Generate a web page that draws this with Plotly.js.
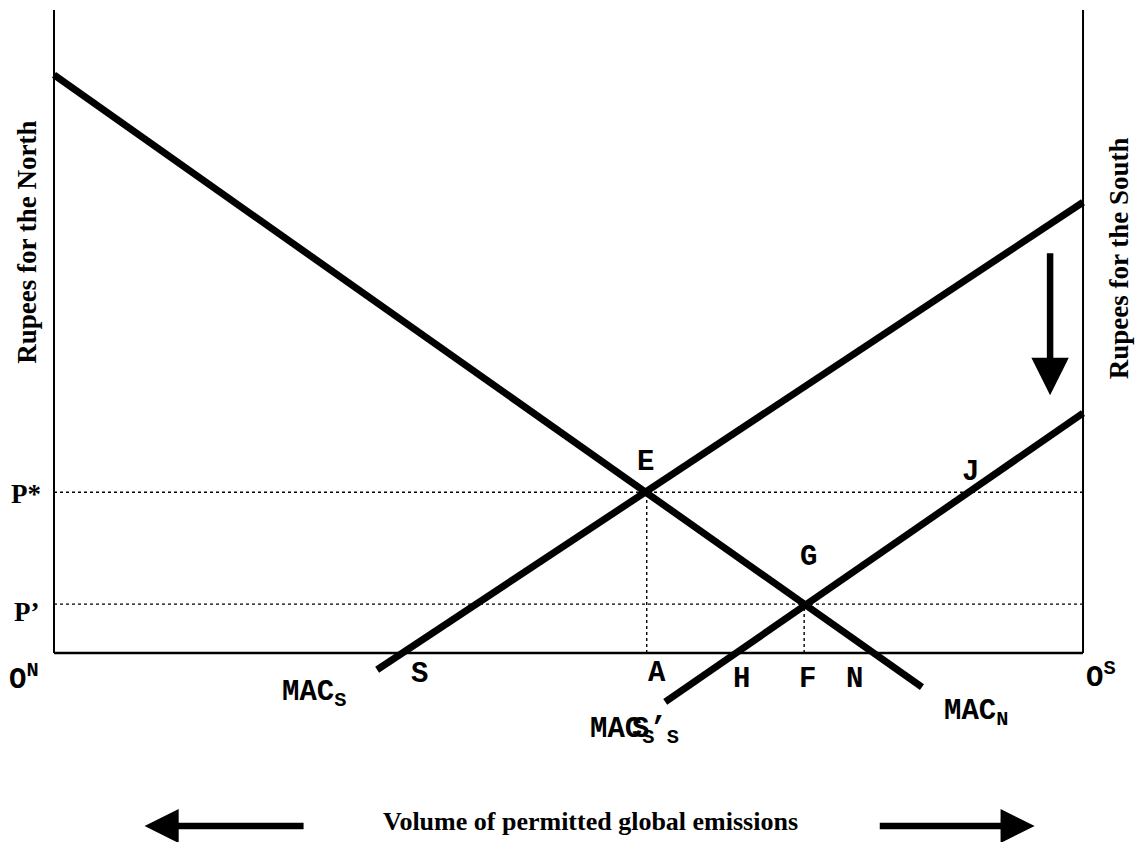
<!DOCTYPE html>
<html>
<head>
<meta charset="utf-8">
<script src="https://cdn.plot.ly/plotly-3.0.1.min.js"></script>
<style>html,body{margin:0;padding:0;background:#fff;}#chart{width:1139px;height:842px;}</style>
</head>
<body>
<div id="chart"></div>
<script>
// ---- data (emissions 0..100 from O^N to O^S, rupees 0..100) ----
var macN_x = [0, 84.35];
var macN_y = [89.9, -5.3];
var macS_x = [31.4, 100];
var macS_y = [-2.6, 70.1];
var macS2_x = [59.4, 100];
var macS2_y = [-7.6, 37.3];
var priceLevels = [25.0, 7.6];          // P*, P'
var priceLabels = ["P*", "P\u2019"];
var qtyLevels = [57.6, 72.9];           // A, F

// helpers: intersections from the data lines
function lineAt(xs, ys, y) { return xs[0] + (y - ys[0]) * (xs[1] - xs[0]) / (ys[1] - ys[0]); }
var xS = lineAt(macS_x, macS_y, 0);
var xH = lineAt(macS2_x, macS2_y, 0);
var xN = lineAt(macN_x, macN_y, 0);
var xJ = lineAt(macS2_x, macS2_y, priceLevels[0]);

var thick = {color: '#000', width: 7};
var traces = [
  {x: macN_x, y: macN_y, mode: 'lines', line: thick, hoverinfo: 'skip'},
  {x: macS_x, y: macS_y, mode: 'lines', line: thick, hoverinfo: 'skip'},
  {x: macS2_x, y: macS2_y, mode: 'lines', line: thick, hoverinfo: 'skip'}
];

var dotted = {color: '#000', width: 1.4, dash: 'dot'};
var shapes = [
  {type: 'line', x0: 0, x1: 0, y0: 0, y1: 100, line: {color: '#000', width: 2}},
  {type: 'line', x0: 100, x1: 100, y0: 0, y1: 100, line: {color: '#000', width: 2}},
  {type: 'line', x0: 0, x1: 100, y0: 0, y1: 0, line: {color: '#000', width: 2.5}},
  {type: 'line', x0: 0, x1: 100, y0: priceLevels[0], y1: priceLevels[0], line: dotted},
  {type: 'line', x0: 0, x1: 100, y0: priceLevels[1], y1: priceLevels[1], line: dotted},
  {type: 'line', x0: qtyLevels[0], x1: qtyLevels[0], y0: 0, y1: priceLevels[0], line: dotted},
  {type: 'line', x0: qtyLevels[1], x1: qtyLevels[1], y0: 0, y1: priceLevels[1], line: dotted}
];
shapes.forEach(function(s){ s.layer = 'below'; });

var mono = {family: 'Liberation Mono, Courier New, monospace', size: 29, color: '#000'};
var serif = {family: 'Liberation Serif, Times New Roman, serif', size: 27, color: '#000'};

function lab(text, x, y, dx, dy, font, xanchor) {
  return {text: '<b>' + text + '</b>', x: x, y: y, xref: 'x', yref: 'y', xshift: dx, yshift: dy,
          showarrow: false, font: font, xanchor: xanchor || 'center', yanchor: 'middle'};
}

var ann = [
  lab('E', qtyLevels[0], priceLevels[0], -1, 30, mono),
  lab('G', qtyLevels[1], priceLevels[1], 4, 47, mono),
  lab('J', xJ, priceLevels[0], 2, 20, mono),
  lab('S', xS, 0, 17, -21, mono),
  lab('A', qtyLevels[0], 0, 10, -20, mono),
  lab('H', xH, 0, 6, -26, mono),
  lab('F', qtyLevels[1], 0, 3, -26, mono),
  lab('N', xN, 0, -19, -26, mono),
  lab('O<sup>N</sup>', 0, 0, -30, -25, mono),
  lab('O<sup>S</sup>', 100, 0, 18, -23, mono),
  lab('MAC<sub>S</sub>', macS_x[0], macS_y[0], -97, -24, mono, 'left'),
  lab('MAC<sub>N</sub>', macN_x[1], macN_y[1], 20, -26, mono, 'left'),
  lab('MAC<sub>S</sub>', macS2_x[0], macS2_y[0], -77, -29, mono, 'left'),
  lab('S\u2019<sub>S</sub>', macS2_x[0], macS2_y[0], -35, -29, mono, 'left'),
  lab(priceLabels[0], 0, priceLevels[0], -11, -2, serif, 'right'),
  lab(priceLabels[1], 0, priceLevels[1], -13, -8, serif, 'right'),
  {text: '<b>Rupees for the North</b>', x: 0, y: 63.8, xref: 'x', yref: 'y', xshift: -27, showarrow: false, textangle: -90, font: serif},
  {text: '<b>Rupees for the South</b>', x: 100, y: 61.4, xref: 'x', yref: 'y', xshift: 36, showarrow: false, textangle: -90, font: serif},
  {text: '<b>Volume of permitted global emissions</b>', x: 52.1, y: -26.2, xref: 'x', yref: 'y', showarrow: false, font: {family: serif.family, size: 26, color: '#000'}},
  // arrows
  {text: '', x: 96.8, y: 40.1, ax: 96.8, ay: 62.4, xref: 'x', yref: 'y', axref: 'x', ayref: 'y', showarrow: true, arrowhead: 2, arrowsize: 1.15, arrowwidth: 6.5, arrowcolor: '#000', standoff: 0, startstandoff: 0},
  {text: '', x: 8.8, y: -26.9, ax: 24.4, ay: -26.9, xref: 'x', yref: 'y', axref: 'x', ayref: 'y', showarrow: true, arrowhead: 2, arrowsize: 1.05, arrowwidth: 6.5, arrowcolor: '#000', standoff: 0},
  {text: '', x: 95.3, y: -26.9, ax: 80.1, ay: -26.9, xref: 'x', yref: 'y', axref: 'x', ayref: 'y', showarrow: true, arrowhead: 2, arrowsize: 1.05, arrowwidth: 6.5, arrowcolor: '#000', standoff: 0}
];

var layout = {
  width: 1139, height: 842,
  margin: {l: 0, r: 0, t: 0, b: 0},
  paper_bgcolor: '#fff', plot_bgcolor: '#fff',
  showlegend: false,
  xaxis: {range: [-5.248, 105.44], visible: false, fixedrange: true},
  yaxis: {range: [-29.39, 101.56], visible: false, fixedrange: true},
  shapes: shapes,
  annotations: ann
};

Plotly.newPlot('chart', traces, layout, {staticPlot: true});
</script>
</body>
</html>
